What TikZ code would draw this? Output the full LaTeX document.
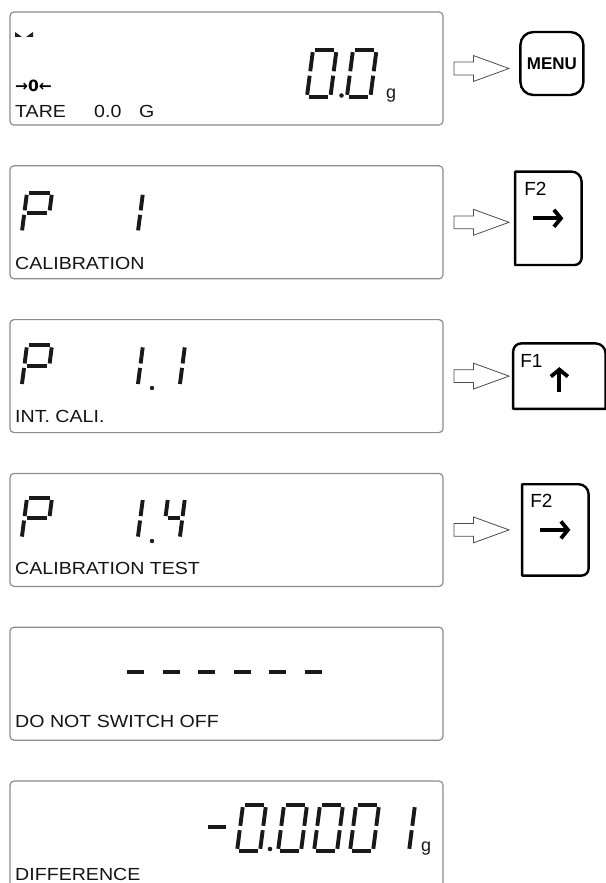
\documentclass[tikz,border=0pt]{standalone}
\usepackage{fontspec}
\setmainfont{Liberation Sans}
\newfontfamily\symfont{DejaVu Sans}
\usetikzlibrary{positioning,shapes.arrows,arrows.meta}

\newcommand{\seggap}{2.2}
\newcommand{\wide}[1]{\scalebox{1.12}[1]{#1}}
\newcommand{\lcdseg}[1]{%
  \if a#1\draw[segline] (\seggap,0) -- (\digw-\seggap,0);\fi
  \if b#1\draw[segline] (\digw,\seggap) -- (\digw,\digh/2-\seggap);\fi
  \if c#1\draw[segline] (\digw,\digh/2+\seggap) -- (\digw,\digh-\seggap);\fi
  \if d#1\draw[segline] (\seggap,\digh) -- (\digw-\seggap,\digh);\fi
  \if e#1\draw[segline] (0,\digh/2+\seggap) -- (0,\digh-\seggap);\fi
  \if f#1\draw[segline] (0,\seggap) -- (0,\digh/2-\seggap);\fi
  \if g#1\draw[segline] (\seggap,\digh/2) -- (\digw-\seggap,\digh/2);\fi}
\newcommand{\lcdchar}[5]{%
  \def\digw{#3}\def\digh{#4}%
  \begin{scope}[shift={(#1,#2)},xslant=0.13]
    \foreach \sgm in {#5} {\lcdseg{\sgm}}
  \end{scope}}

\begin{document}
\begin{tikzpicture}[x=1pt,y=-1pt]

    \tikzset{
      lcdbox/.style={
        draw=black!45,
        line width=1.2pt,
        rounded corners=4pt,
        minimum width=433pt,
        minimum height=113pt,
        inner sep=0pt,
      },
      segline/.style={line width=3.9pt, color=black!90},
      lcdtext/.style={anchor=base west, inner sep=0pt, text=black!92,
        font=\fontsize{17.5}{20}\selectfont},
      unittext/.style={anchor=base west, inner sep=0pt, text=black!90,
        font=\fontsize{18}{20}\selectfont},
      pushar/.style={single arrow, draw=black!70, line width=0.8pt,
        inner xsep=0pt, inner ysep=6pt, minimum height=55pt,
        single arrow head extend=6.5pt, single arrow tip angle=40},
      menukey/.style={draw, line width=2.4pt, rounded corners=13pt,
        minimum width=63pt, minimum height=63pt, inner sep=0pt,
        font=\bfseries\fontsize{17}{20}\selectfont},
      keybox/.style={inner sep=0pt, minimum width=66pt, minimum height=93pt},
      keyline/.style={line width=2.4pt, line join=round},
      keyname/.style={anchor=north west, inner sep=0pt,
        font=\fontsize{19}{20}\selectfont},
      keyarrow/.style={line width=3.8pt, -{Straight Barb[length=7pt,width=17pt]}},
    }
    \useasboundingbox (0,0) rectangle (605,883);

    % displays
    \node[lcdbox] (d1) at (226.5,68.5) {};
    \node[lcdbox, below=39.6pt of d1] (d2) {};
    \node[lcdbox, below=39.6pt of d2] (d3) {};
    \node[lcdbox, below=39.6pt of d3] (d4) {};
    \node[lcdbox, below=39.6pt of d4] (d5) {};
    \node[lcdbox, below=39.6pt of d5] (d6) {};

    % display 1
    \fill[black!88] (15,32) -- (15,37) -- (22,37) -- cycle;
    \fill[black!88] (33,32) -- (33,37) -- (26,37) -- cycle;
    \node[anchor=west, inner sep=0pt, font=\symfont\bfseries\fontsize{15.5}{16}\selectfont] (zero) at (15,86) {→0←};
    \node[lcdtext] (tare) at (15,117) {\wide{TARE}};
    \node[lcdtext] (tarev) at (94,117) {\wide{0.0}};
    \node[lcdtext] (tareu) at (139,117) {\wide{G}};
    \lcdchar{313}{50}{23.5}{47}{a,b,c,d,e,f}
    \fill[black!88] (341.5,95.5) circle[radius=2.3];
    \lcdchar{353}{50}{23.5}{47}{a,b,c,d,e,f}
    \node[unittext] (u1) at (386,98) {g};

    % display 2
    \lcdchar{27}{192.6}{25}{40}{a,b,e,f,g}
    \lcdchar{126}{192.6}{17}{40}{b,c}
    \node[lcdtext] (l2) at (15,269.6) {\wide{CALIBRATION}};

    % display 3
    \lcdchar{27}{345.2}{25}{41}{a,b,e,f,g}
    \lcdchar{126}{345.2}{17}{41}{b,c}
    \fill[black!88] (152,388) circle[radius=2.2];
    \lcdchar{168}{345.2}{17}{41}{b,c}
    \node[lcdtext] (l3) at (15,422.2) {\wide{INT. CALI.}};

    % display 4
    \lcdchar{27}{497.8}{25}{41}{a,b,e,f,g}
    \lcdchar{126}{497.8}{17}{41}{b,c}
    \fill[black!88] (152,541) circle[radius=2.2];
    \lcdchar{168}{497.8}{17}{41}{b,c,f,g}
    \node[lcdtext] (l4) at (15,574.8) {\wide{CALIBRATION TEST}};

    % display 5
    \foreach \k in {0,...,5}
      \draw[segline] ({127+35.5*\k},672) -- ++(17,0);
    \node[lcdtext] (l5) at (15,727.4) {\wide{DO NOT SWITCH OFF}};

    % display 6
    \draw[segline] (208,827) -- (226,827);
    \lcdchar{243}{805}{23}{46}{a,b,c,d,e,f}
    \fill[black!88] (270,849) circle[radius=2.3];
    \lcdchar{284}{805}{23}{46}{a,b,c,d,e,f}
    \lcdchar{320}{805}{23}{46}{a,b,c,d,e,f}
    \lcdchar{356}{805}{23}{46}{a,b,c,d,e,f}
    \lcdchar{392}{805}{23}{46}{b,c}
    \node[unittext] (u6) at (421,851) {g};
    \node[lcdtext] (l6) at (15,880) {\wide{DIFFERENCE}};

    % push arrows
    \node[pushar, right=10pt of d1] (a1) {};
    \node[pushar, right=10pt of d2] (a2) {};
    \node[pushar, right=10pt of d3] (a3) {};
    \node[pushar, right=10pt of d4] (a4) {};

    % keys
    \node[menukey, right=9pt of a1, yshift=5pt] (k1) {MENU};

    \node[keybox, right=5pt of a2, yshift=4pt] (k2) {};
    \draw[keyline] (k2.south west) -- (k2.north west) -- ([xshift=-10pt]k2.north east)
      arc[start angle=90,end angle=0,radius=10pt] -- ([yshift=7pt]k2.south east)
      arc[start angle=0,end angle=-90,radius=7pt] -- cycle;
    \node[keyname] (f2a) at ([shift={(9pt,-10pt)}]k2.north west) {F2};
    \draw[keyarrow] ([xshift=-15pt]k2.center) -- ([xshift=15pt]k2.center);

    \node[keybox, minimum width=92pt, minimum height=65pt, right=3pt of a3] (k3) {};
    \draw[keyline] (k3.south west) -- ([yshift=-8pt]k3.north west)
      arc[start angle=180,end angle=90,radius=8pt] -- ([xshift=-10pt]k3.north east)
      arc[start angle=90,end angle=0,radius=10pt] -- (k3.south east) -- cycle;
    \node[keyname] (f1) at ([shift={(7pt,-11pt)}]k3.north west) {F1};
    \draw[keyarrow] ([yshift=-16pt]k3.center) -- ([yshift=9pt]k3.center);

    \node[keybox, minimum height=91pt, right=12pt of a4] (k4) {};
    \draw[keyline] (k4.south west) -- (k4.north west) -- ([xshift=-10pt]k4.north east)
      arc[start angle=90,end angle=0,radius=10pt] -- ([yshift=7pt]k4.south east)
      arc[start angle=0,end angle=-90,radius=7pt] -- cycle;
    \node[keyname] (f2b) at ([shift={(8pt,-10pt)}]k4.north west) {F2};
    \draw[keyarrow] ([xshift=-15pt]k4.center) -- ([xshift=15pt]k4.center);

\end{tikzpicture}
\end{document}
